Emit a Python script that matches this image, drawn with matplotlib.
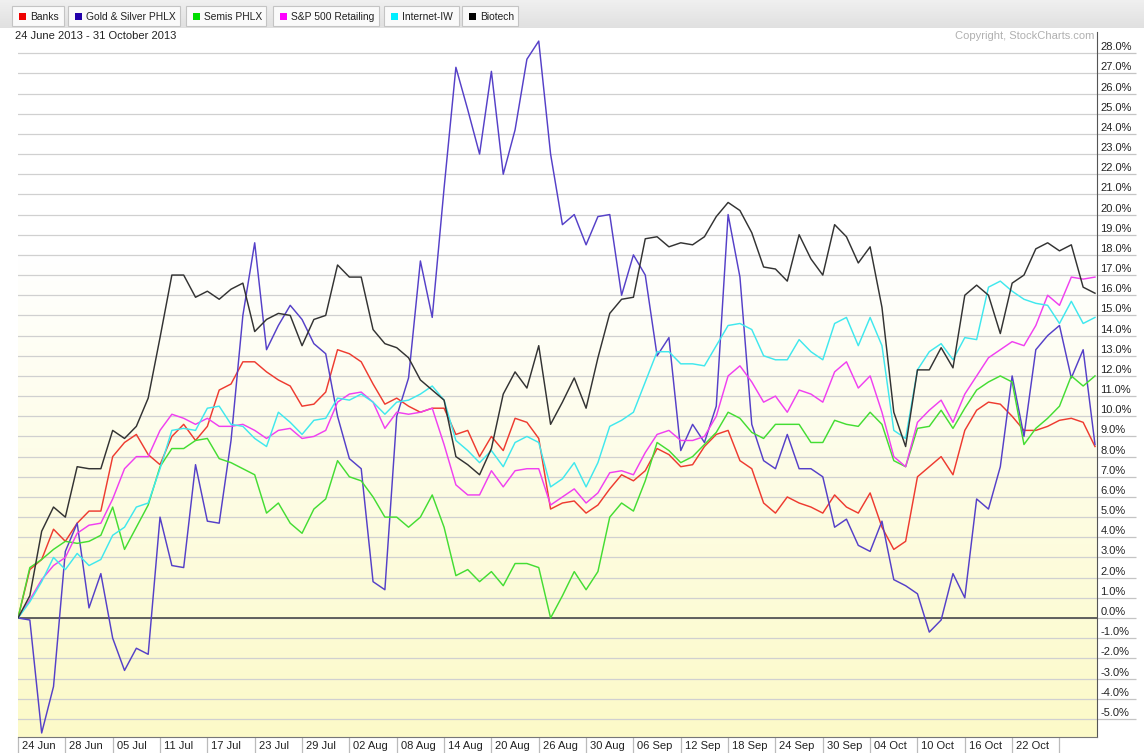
import matplotlib.pyplot as plt
import matplotlib.transforms as mtransforms
from matplotlib.patches import Rectangle
import numpy as np
import pandas as pd

plt.rcParams['font.family'] = ['Liberation Sans', 'DejaVu Sans']

# trading days 24 Jun - 31 Oct 2013 (4 Jul and 2 Sep closed)
dates = pd.bdate_range('2013-06-24', '2013-10-31')
dates = dates[~dates.isin(pd.to_datetime(['2013-07-04', '2013-09-02']))]

banks = [0.0, 2.4, 2.9, 4.4, 3.8, 4.7, 5.3, 5.3, 8.0, 8.7, 9.1, 8.1, 7.6, 9.0, 9.6, 8.8,
         9.5, 11.3, 11.6, 12.7, 12.7, 12.2, 11.8, 11.5, 10.5, 10.6, 11.2, 13.3, 13.1, 12.7,
         11.6, 10.6, 10.9, 10.5, 10.2, 10.4, 10.4, 9.1, 9.3, 8.0, 9.0, 8.3, 9.9, 9.7, 8.9,
         5.4, 5.7, 5.8, 5.2, 5.6, 6.4, 7.1, 6.8, 7.3, 8.4, 8.1, 7.5, 7.6, 8.5, 9.1, 9.3,
         7.8, 7.4, 5.7, 5.2, 6.0, 5.7, 5.5, 5.2, 6.1, 5.5, 5.2, 6.2, 4.5, 3.4, 3.8, 7.0,
         7.5, 8.0, 7.1, 9.3, 10.3, 10.7, 10.6, 10.0, 9.3, 9.3, 9.5, 9.8, 9.9, 9.7, 8.5]
gold = [0.0, -0.1, -5.7, -3.4, 3.3, 4.7, 0.5, 2.2, -1.0, -2.6, -1.5, -1.8, 5.0, 2.6, 2.5,
        7.6, 4.8, 4.7, 8.8, 15.0, 18.6, 13.3, 14.5, 15.5, 14.8, 13.6, 13.1, 10.0, 7.9, 7.4,
        1.8, 1.4, 10.0, 11.9, 17.7, 14.9, 21.3, 27.3, 25.2, 23.0, 27.1, 22.0, 24.2, 27.7,
        28.6, 23.0, 19.5, 20.0, 18.5, 19.9, 20.0, 16.0, 18.0, 17.0, 13.0, 13.9, 8.3, 9.6,
        8.7, 10.5, 20.0, 16.9, 9.6, 7.8, 7.4, 9.1, 7.4, 7.4, 7.0, 4.5, 4.9, 3.6, 3.3, 4.8,
        1.9, 1.6, 1.2, -0.7, -0.1, 2.2, 1.0, 5.9, 5.4, 7.5, 12.0, 9.0, 13.3, 14.0, 14.5,
        11.9, 13.3, 8.6]
semis = [0.0, 2.5, 2.9, 3.4, 3.8, 3.7, 3.8, 4.1, 5.5, 3.4, 4.5, 5.6, 7.5, 8.4, 8.4, 8.8,
         8.9, 7.9, 7.7, 7.4, 7.1, 5.2, 5.7, 4.7, 4.2, 5.4, 5.9, 7.8, 7.0, 6.8, 6.0, 5.0,
         5.0, 4.5, 5.0, 6.1, 4.5, 2.1, 2.4, 1.8, 2.3, 1.6, 2.7, 2.7, 2.5, 0.0, 1.1, 2.3,
         1.4, 2.3, 5.0, 5.7, 5.3, 6.8, 8.7, 8.3, 7.7, 8.0, 8.6, 9.2, 10.2, 9.9, 9.2, 8.9,
         9.6, 9.6, 9.6, 8.7, 8.7, 9.8, 9.6, 9.5, 10.2, 9.6, 7.8, 7.5, 9.4, 9.5, 10.3, 9.4,
         10.4, 11.3, 11.7, 12.0, 11.7, 8.6, 9.4, 9.9, 10.5, 12.0, 11.5, 12.0]
retail = [0.0, 0.9, 1.9, 2.6, 3.0, 4.2, 4.6, 4.7, 5.9, 7.4, 8.0, 8.0, 9.3, 10.1, 9.9, 9.6,
          9.9, 9.5, 9.5, 9.6, 9.3, 8.9, 9.3, 9.4, 8.9, 9.0, 9.3, 10.7, 11.1, 11.2, 10.7,
          9.4, 10.2, 10.1, 10.2, 10.4, 8.6, 6.6, 6.1, 6.1, 7.3, 6.5, 7.3, 7.4, 7.4, 5.6,
          6.0, 6.4, 5.7, 6.2, 7.2, 7.3, 7.1, 8.2, 9.1, 9.3, 8.8, 8.8, 9.0, 10.0, 12.0, 12.5,
          11.7, 10.7, 11.0, 10.2, 11.3, 11.1, 10.7, 12.2, 12.7, 11.4, 12.0, 10.2, 8.0, 7.5,
          9.7, 10.3, 10.8, 9.7, 11.1, 12.0, 12.9, 13.3, 13.7, 13.5, 14.5, 16.0, 15.5, 16.9,
          16.8, 16.9]
internet = [0.0, 0.8, 1.8, 3.0, 2.4, 3.2, 2.6, 2.9, 4.1, 4.5, 5.5, 5.7, 7.4, 9.3, 9.4, 9.3,
            10.4, 10.5, 9.6, 9.5, 8.9, 8.5, 10.2, 9.7, 9.1, 9.8, 9.9, 10.9, 10.8, 11.1, 10.7,
            10.1, 10.7, 10.8, 11.1, 11.5, 10.8, 8.8, 8.3, 7.7, 8.3, 7.5, 8.7, 9.0, 8.7, 6.5,
            6.9, 7.7, 6.5, 7.7, 9.5, 9.8, 10.2, 11.7, 13.2, 13.2, 12.6, 12.6, 12.5, 13.5,
            14.5, 14.6, 14.3, 13.0, 12.8, 12.8, 13.8, 13.2, 12.8, 14.6, 14.9, 13.5, 14.9,
            13.5, 9.3, 8.9, 12.3, 13.2, 13.6, 12.8, 13.9, 13.8, 16.4, 16.7, 16.2, 15.8, 15.6,
            15.5, 14.6, 15.7, 14.6, 14.9]
biotech = [0.0, 1.1, 4.3, 5.5, 5.0, 7.5, 7.4, 7.4, 9.3, 8.9, 9.5, 10.9, 13.9, 17.0, 17.0,
           15.9, 16.2, 15.8, 16.3, 16.6, 14.2, 14.8, 15.1, 15.0, 13.5, 14.8, 15.0, 17.5,
           16.9, 16.9, 14.3, 13.6, 13.4, 12.9, 11.8, 11.3, 10.8, 8.0, 7.6, 7.1, 8.4, 11.1,
           12.2, 11.4, 13.5, 9.6, 10.7, 11.9, 10.4, 12.9, 15.1, 15.8, 15.9, 18.8, 18.9, 18.4,
           18.6, 18.5, 18.9, 19.9, 20.6, 20.2, 19.1, 17.4, 17.3, 16.7, 19.0, 17.8, 17.0, 19.5,
           18.9, 17.6, 18.4, 15.4, 10.2, 8.5, 12.3, 12.3, 13.4, 12.4, 16.0, 16.5, 16.0, 14.1,
           16.6, 17.0, 18.3, 18.6, 18.2, 18.5, 16.4, 16.1]

names = ['Banks', 'Gold & Silver PHLX', 'Semis PHLX', 'S&P 500 Retailing', 'Internet-IW', 'Biotech']
series = [banks, gold, semis, retail, internet, biotech]
line_colors = ['#ee3b30', '#5540c8', '#44dd33', '#f040f0', '#40e8ee', '#333333']
key_colors = ['#ee0000', '#2200aa', '#00dd00', '#ff00ff', '#00eeff', '#000000']

fig = plt.figure(figsize=(11.44, 7.53), dpi=100)
W, H = 1144, 753
ax = fig.add_axes([18 / W, 16 / H, (1097 - 18) / W, (737 - 32) / H])

x = np.arange(len(dates))
ymin, ymax = -5.9, 29.05
ax.set_xlim(0, len(dates) - 0.83)
ax.set_ylim(ymin, ymax)

# background: white at top fading to pale yellow at bottom
yy = np.linspace(ymax, ymin, 300)
t = np.clip((18 - yy) / (18 - ymin), 0, 1)
top = np.array([1.0, 1.0, 1.0])
bot = np.array([252, 250, 200]) / 255
grad = (top[None, :] * (1 - t[:, None]) + bot[None, :] * t[:, None])[:, None, :]
ax.imshow(grad, extent=[0, len(dates), ymin, ymax], aspect='auto', zorder=0)

for vals, c in zip(series, line_colors):
    ax.plot(x, vals, color=c, lw=1.05, zorder=3)

ax.axhline(0, color='#555555', lw=1.3, zorder=2)

# y axis on the right, labels sitting above each gridline
yt = np.arange(-5, 29)
ax.yaxis.tick_right()
ax.set_yticks(yt, [f'{v:.1f}%' for v in yt])
ax.tick_params(axis='y', direction='out', length=28, width=0.9, color='#c4c4c4',
               pad=-25.5, labelsize=8, labelcolor='#222222')
for lab in ax.get_yticklabels():
    lab.set_va('bottom')
    lab.set_transform(lab.get_transform() + mtransforms.ScaledTranslation(0, 1 / 100, fig.dpi_scale_trans))
ax.yaxis.get_major_ticks()[5].tick2line.set_color('#555555')
ax.grid(axis='y', color='#d0d0d0', lw=0.9)
ax.set_axisbelow(True)

# x axis: a tick every 4 trading days, label to the right of the tick
xt = list(range(0, 85, 4)) + [88]
xl = [dates[i].strftime('%d %b') for i in xt[:-1]] + ['']
ax.set_xticks(xt, xl)
ax.tick_params(axis='x', direction='out', length=11.5, width=0.9, color='#bbbbbb',
               pad=-8.5, labelsize=8, labelcolor='#222222')
for lab in ax.get_xticklabels():
    lab.set_ha('left')
    lab.set_transform(lab.get_transform() + mtransforms.ScaledTranslation(4 / 100, 0, fig.dpi_scale_trans))

ax.spines['top'].set_visible(False)
ax.spines['left'].set_visible(False)
ax.spines['right'].set_color('#555555')
ax.spines['bottom'].set_color('#777777')

# overlay in pixel coordinates for the header, legend keys and captions
ov = fig.add_axes([0, 0, 1, 1], zorder=5)
ov.set_xlim(0, W)
ov.set_ylim(H, 0)
ov.axis('off')
ov.patch.set_alpha(0)

hg = np.linspace(0.94, 0.88, 50)[:, None, None] * np.ones((1, 1, 3))
ov.imshow(hg, extent=[0, W, 28, 0], aspect='auto', zorder=0)

key_boxes = [(12, 64), (68, 180), (186, 266), (273, 379), (384, 459), (462, 518)]
for (x0, x1), name, kc in zip(key_boxes, names, key_colors):
    ov.add_patch(Rectangle((x0, 6), x1 - x0, 20, facecolor='#fafafa', edgecolor='#c4c4c4', lw=0.8, zorder=1))
    ov.add_patch(Rectangle((x0 + 7, 12.5), 7, 7, facecolor=kc, edgecolor='none', zorder=2))
    ov.text(x0 + 18, 16.5, name, fontsize=7.4, va='center', ha='left', color='#222222', zorder=2)

ov.text(15, 36, '24 June 2013 - 31 October 2013', fontsize=8, va='center', ha='left', color='#222222')
ov.text(1094, 36, 'Copyright, StockCharts.com', fontsize=8, va='center', ha='right', color='#b0b0b0')

fig.savefig('out.png', dpi=100)
